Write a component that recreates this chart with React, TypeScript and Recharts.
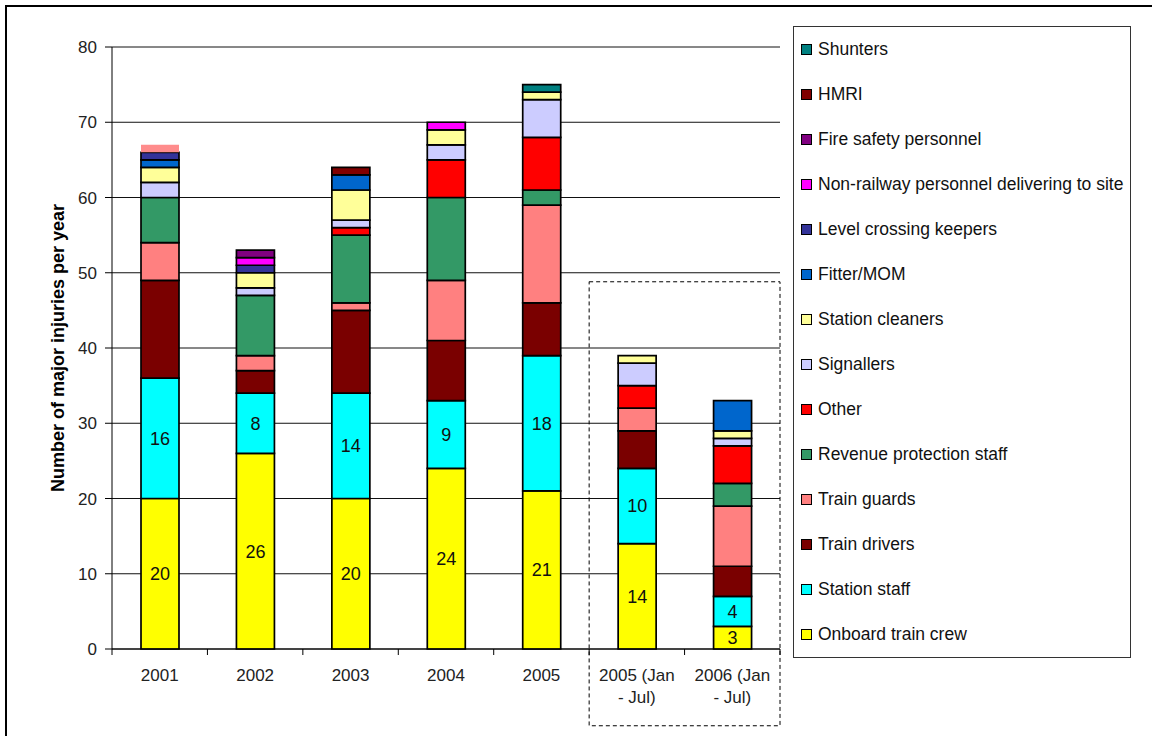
import React from 'react';
import { BarChart, Bar, XAxis, YAxis, CartesianGrid, LabelList, Legend, ReferenceArea } from 'recharts';

const categories = ['2001', '2002', '2003', '2004', '2005', '2005 (Jan - Jul)', '2006 (Jan - Jul)'];
const tickLines = [['2001'], ['2002'], ['2003'], ['2004'], ['2005'], ['2005 (Jan', '- Jul)'], ['2006 (Jan', '- Jul)']];

const onboard = [20, 26, 20, 24, 21, 14, 3];
const stationStaff = [16, 8, 14, 9, 18, 10, 4];
const trainDrivers = [13, 3, 11, 8, 7, 5, 4];
const trainGuards = [5, 2, 1, 8, 13, 3, 8];
const revenue = [6, 8, 9, 11, 2, 0, 3];
const other = [0, 0, 1, 5, 7, 3, 5];
const signallers = [2, 1, 1, 2, 5, 3, 1];
const cleaners = [2, 2, 4, 2, 1, 1, 1];
const fitter = [1, 0, 2, 0, 0, 0, 4];
const levelCrossing = [1, 1, 0, 0, 0, 0, 0];
const nonRailway = [0, 1, 0, 1, 0, 0, 0];
const fireSafety = [0, 1, 0, 0, 0, 0, 0];
const hmri = [0, 0, 1, 0, 0, 0, 0];
const shunters = [0, 0, 0, 0, 1, 0, 0];
const unlabelled = [1, 0, 0, 0, 0, 0, 0];
const totals = [67, 53, 64, 70, 75, 39, 33];
const yTicks = [0, 10, 20, 30, 40, 50, 60, 70, 80];

const series = [
  { key: 'onboard', name: 'Onboard train crew', color: '#FFFF00', values: onboard },
  { key: 'stationStaff', name: 'Station staff', color: '#00FFFF', values: stationStaff },
  { key: 'trainDrivers', name: 'Train drivers', color: '#7A0000', values: trainDrivers },
  { key: 'trainGuards', name: 'Train guards', color: '#FF8080', values: trainGuards },
  { key: 'revenue', name: 'Revenue protection staff', color: '#339966', values: revenue },
  { key: 'other', name: 'Other', color: '#FF0000', values: other },
  { key: 'signallers', name: 'Signallers', color: '#CCCCFF', values: signallers },
  { key: 'cleaners', name: 'Station cleaners', color: '#FFFF99', values: cleaners },
  { key: 'fitter', name: 'Fitter/MOM', color: '#0066CC', values: fitter },
  { key: 'levelCrossing', name: 'Level crossing keepers', color: '#333399', values: levelCrossing },
  { key: 'nonRailway', name: 'Non-railway personnel delivering to site', color: '#FF00FF', values: nonRailway },
  { key: 'fireSafety', name: 'Fire safety personnel', color: '#800080', values: fireSafety },
  { key: 'hmri', name: 'HMRI', color: '#800000', values: hmri },
  { key: 'shunters', name: 'Shunters', color: '#008080', values: shunters },
];

const data = categories.map((c, i) => {
  const row: any = { category: c, total: totals[i], zero: 0, unlabelled: unlabelled[i] };
  series.forEach((s) => { row[s.key] = s.values[i]; });
  return row;
});

const W = 1152;
const H = 736;
const PLOT_LEFT = 112;
const PLOT_RIGHT = 780;
const BAND = (PLOT_RIGHT - PLOT_LEFT) / categories.length;
const FONT = 'Arial, "Liberation Sans", sans-serif';

const XTick = (props: any) => {
  const { x, y, index } = props;
  const lines = tickLines[index] || [];
  const last = index === categories.length - 1;
  return (
    <g>
      <line x1={x - BAND / 2} y1={y} x2={x - BAND / 2} y2={y + 6} stroke="#000" />
      {last && <line x1={x + BAND / 2} y1={y} x2={x + BAND / 2} y2={y + 6} stroke="#000" />}
      {lines.map((l, k) => (
        <text key={k} x={x} y={y + 32 + k * 22} textAnchor="middle" fontSize={17} fill="#222" fontFamily={FONT}>{l}</text>
      ))}
    </g>
  );
};

const LegendBox = () => {
  const items = [...series].reverse();
  return (
    <div style={{ position: 'relative', width: 336, height: 630, border: '1.5px solid #333', background: '#fff', fontFamily: FONT }}>
      {items.map((s, i) => (
        <div key={s.key} style={{ position: 'absolute', left: 7, top: 22 + i * 45 - 10, height: 20, display: 'flex', alignItems: 'center', whiteSpace: 'nowrap' }}>
          <span style={{ display: 'inline-block', width: 9, height: 9, background: s.color, border: '1px solid #000', marginRight: 6 }} />
          <span style={{ fontSize: 17.5, color: '#111' }}>{s.name}</span>
        </div>
      ))}
    </div>
  );
};

export default function App() {
  return (
    <div style={{ position: 'absolute', left: 0, top: 0, width: W, height: H, background: '#fff', overflow: 'hidden' }}>
      <div style={{ position: 'absolute', left: 5, top: 5, width: W, height: 2, background: '#000' }} />
      <div style={{ position: 'absolute', left: 5, top: 5, width: 2, height: H, background: '#000' }} />
      <BarChart
        width={W}
        height={H}
        data={data}
        margin={{ top: 47, right: W - PLOT_RIGHT, bottom: 27, left: 0 }}
        barSize={38}
        style={{ fontFamily: FONT }}
      >
        <CartesianGrid vertical={false} stroke="#111" />
        <XAxis
          dataKey="category"
          height={60}
          interval={0}
          tickLine={false}
          tickSize={0}
          tickMargin={0}
          axisLine={{ stroke: '#000' }}
          tick={<XTick />}
        />
        <YAxis
          width={PLOT_LEFT}
          domain={[0, 80]}
          ticks={yTicks}
          tickSize={7}
          tickMargin={8}
          axisLine={{ stroke: '#000' }}
          tickLine={{ stroke: '#000' }}
          tick={{ fontSize: 17, fill: '#222', fontFamily: FONT }}
          label={{ value: 'Number of major injuries per year', angle: -90, position: 'center', dx: 2, style: { fontWeight: 'bold', fontSize: 18, fill: '#000', fontFamily: FONT } }}
        />
        <Legend
          layout="vertical"
          align="center"
          verticalAlign="middle"
          wrapperStyle={{ position: 'absolute', left: 793, top: 26, width: 338, height: 632 }}
          content={() => <LegendBox />}
        />
        {series.map((s, i) => (
          <Bar key={s.key} dataKey={s.key} name={s.name} stackId="a" fill={s.color} stroke="#000" strokeWidth={1.7} isAnimationActive={false}>
            {i < 2 && <LabelList dataKey={s.key} position="center" fontSize={18} fill="#111" fontFamily={FONT} />}
          </Bar>
        ))}
        <Bar dataKey="unlabelled" stackId="a" fill="#FF8C8C" stroke="none" legendType="none" isAnimationActive={false} />
        <Bar dataKey="zero" stackId="a" fill="none" stroke="none" legendType="none" isAnimationActive={false}>
          <LabelList dataKey="total" position="top" offset={8} fontSize={18} fill="#222" fontFamily={FONT} />
        </Bar>
        <ReferenceArea
          x1={categories[5]}
          x2={categories[6]}
          y1={-10.2}
          y2={48.8}
          ifOverflow="visible"
          fill="none"
          stroke="#000"
          strokeDasharray="4 3"
        />
      </BarChart>
    </div>
  );
}
